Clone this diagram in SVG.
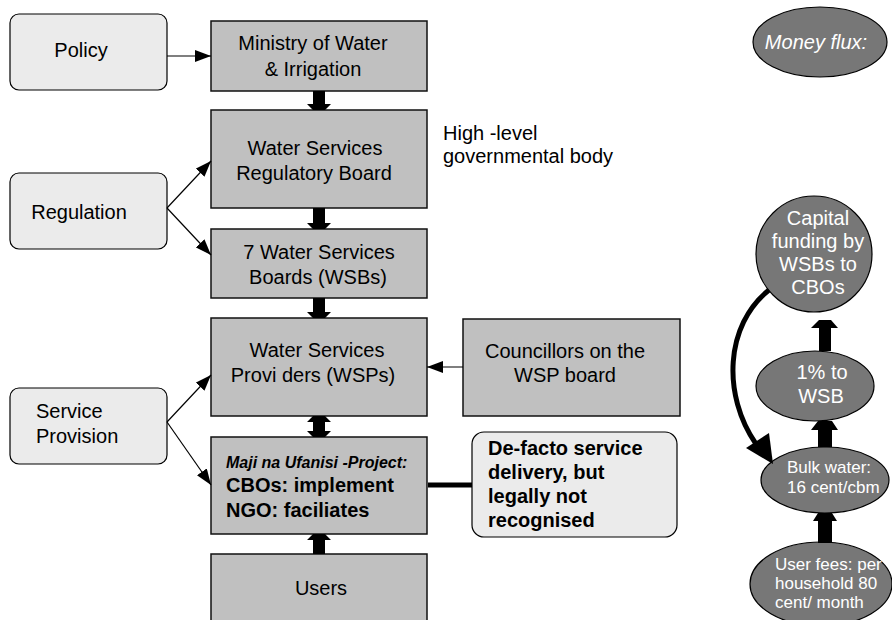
<svg xmlns="http://www.w3.org/2000/svg" width="892" height="620" viewBox="0 0 892 620">
<style>
text{font-family:"Liberation Sans",Arial,sans-serif;font-size:20px;fill:#000}
.lb{fill:#ebebeb;stroke:#000;stroke-width:1.2}
.db{fill:#c0c0c0;stroke:#111;stroke-width:1.5}
.el{fill:#777;stroke:#000;stroke-width:1.2}
.w{fill:#fff}
.c{text-anchor:middle}
.thin{stroke:#000;stroke-width:1.2;fill:none}
.blk{fill:#000}
</style>
<defs>
<marker id="ah" markerWidth="16" markerHeight="12" refX="16" refY="6" orient="auto" markerUnits="userSpaceOnUse">
<path d="M0,0 L16,6 L0,12 z" fill="#000"/>
</marker>
</defs>
<g id="policy"><rect class="lb" x="10" y="14" width="157" height="76" rx="9"/><text class="c" x="81" y="57">Policy</text></g>
<g id="regulation"><rect class="lb" x="10" y="173" width="157" height="76" rx="9"/><text class="c" x="79" y="219">Regulation</text></g>
<g id="service-provision"><rect class="lb" x="10" y="388" width="157" height="76" rx="9"/><text x="36" y="418">Service</text><text x="36" y="443">Provision</text></g>
<g id="ministry"><rect class="db" x="211" y="21" width="216" height="70"/><text class="c" x="313" y="50">Ministry of Water</text><text class="c" x="313" y="76">&amp; Irrigation</text></g>
<g id="wsrb"><rect class="db" x="211" y="110" width="216" height="98"/><text class="c" x="315" y="155">Water Services</text><text class="c" x="314" y="180">Regulatory Board</text></g>
<g id="wsbs"><rect class="db" x="211" y="229" width="216" height="69"/><text class="c" x="319" y="259">7 Water Services</text><text class="c" x="318" y="284">Boards (WSBs)</text></g>
<g id="wsps"><rect class="db" x="211" y="318" width="216" height="98"/><text class="c" x="317" y="357">Water Services</text><text class="c" x="313" y="382">Provi ders (WSPs)</text></g>
<g id="maji"><rect class="db" x="211" y="437" width="216" height="97"/><text x="226" y="468" style="font-size:16px;font-weight:bold;font-style:italic">Maji na Ufanisi -Project:</text><text x="226" y="492" style="font-weight:bold">CBOs: implement</text><text x="226" y="517" style="font-weight:bold">NGO: faciliates</text></g>
<g id="users"><rect class="db" x="211" y="554" width="216" height="80"/><text class="c" x="321" y="595">Users</text></g>
<g id="councillors"><rect class="db" x="463" y="319" width="217" height="97"/><text class="c" x="565" y="358">Councillors on the</text><text class="c" x="565" y="382">WSP board</text></g>
<g id="defacto"><rect class="lb" x="472" y="432" width="205" height="105" rx="12"/><text x="488" y="455" style="font-weight:bold">De-facto service</text><text x="488" y="479" style="font-weight:bold">delivery, but</text><text x="488" y="503" style="font-weight:bold">legally not</text><text x="488" y="527" style="font-weight:bold">recognised</text></g>
<g id="high-level"><text x="443" y="140">High -level</text><text x="443" y="163">governmental body</text></g>
<g id="money-flux"><ellipse class="el" cx="820" cy="42" rx="67" ry="35"/><text class="c w" x="816" y="49" style="font-style:italic">Money flux:</text></g>
<g id="capital"><circle class="el" cx="814" cy="254" r="58"/><text class="c w" x="818" y="225">Capital</text><text class="c w" x="818" y="248">funding by</text><text class="c w" x="818" y="271">WSBs to</text><text class="c w" x="818" y="294">CBOs</text></g>
<g id="one-percent"><ellipse class="el" cx="815" cy="386" rx="59" ry="35"/><text class="c w" x="822" y="379">1% to</text><text class="c w" x="821" y="403">WSB</text></g>
<g id="bulk"><ellipse class="el" cx="825" cy="480" rx="64" ry="33"/><text class="w" x="787" y="473" style="font-size:17px">Bulk water:</text><text class="w" x="787" y="493" style="font-size:17px">16 cent/cbm</text></g>
<g id="user-fees"><ellipse class="el" cx="821" cy="584" rx="71" ry="42"/><text class="w" x="775" y="570" style="font-size:17px">User fees: per</text><text class="w" x="775" y="589" style="font-size:17px">household 80</text><text class="w" x="775" y="608" style="font-size:17px">cent/ month</text></g>
<g id="connectors">
<line class="thin" x1="167" y1="56" x2="211" y2="56" marker-end="url(#ah)"/>
<line class="thin" x1="167" y1="208" x2="211" y2="161" marker-end="url(#ah)"/>
<line class="thin" x1="167" y1="208" x2="211" y2="255" marker-end="url(#ah)"/>
<line class="thin" x1="167" y1="422" x2="211" y2="375" marker-end="url(#ah)"/>
<line class="thin" x1="167" y1="422" x2="211" y2="485" marker-end="url(#ah)"/>
<line class="thin" x1="463" y1="367" x2="427" y2="367" marker-end="url(#ah)"/>
<polygon class="blk" points="313,91 325,91 325,104 331,104 325,110 313,110 307,104 313,104"/>
<polygon class="blk" points="313,208 325,208 325,223 331,223 325,229 313,229 307,223 313,223"/>
<polygon class="blk" points="313,298 325,298 325,312 331,312 325,318 313,318 307,312 313,312"/>
<polygon class="blk" points="313,416 325,416 331,422 325,422 325,431 331,431 325,437 313,437 307,431 313,431 313,422 307,422"/>
<polygon class="blk" points="313,554 325,554 325,540 331,540 325,534 313,534 307,540 313,540"/>
<line x1="428" y1="485" x2="472" y2="485" stroke="#000" stroke-width="5"/>
<polygon class="blk" points="819,351 831,351 831,328 838,328 831,320 819,320 811,328 819,328"/>
<polygon class="blk" points="818,447 832,447 832,430 838,430 832,421 818,421 811,430 818,430"/>
<polygon class="blk" points="818,543 832,543 832,521 837,521 832,513 818,513 813,521 818,521"/>
<path d="M769,290 C725,325 722,395 756,444" stroke="#000" stroke-width="5" fill="none"/>
<polygon class="blk" points="746,448 769,433 773,464"/>
</g>
</svg>
